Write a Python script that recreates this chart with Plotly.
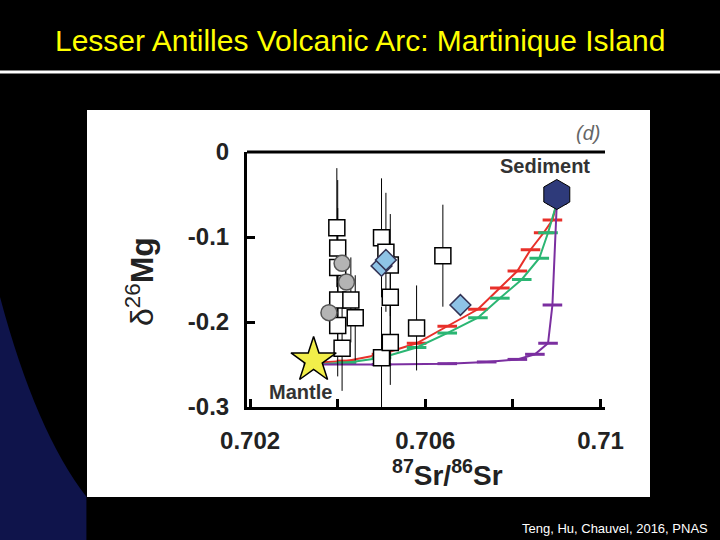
import plotly.graph_objects as go

sq_x = [0.70398,0.7040,0.7040,0.7040,0.7040,0.7041,0.7043,0.7044,0.7050,0.7051,0.7052,0.7052,0.7050,0.7052,0.7058,0.7064]
sq_y = [-0.089,-0.113,-0.136,-0.174,-0.204,-0.231,-0.174,-0.195,-0.101,-0.118,-0.133,-0.171,-0.242,-0.224,-0.207,-0.122]
sq_e = [0.07,0.08,0.07,0.06,0.06,0.05,0.05,0.05,0.07,0.07,0.06,0.06,0.06,0.05,0.05,0.06]
ci_x = [0.7041,0.7042,0.7038]
ci_y = [-0.131,-0.153,-0.189]
di_x = [0.7050,0.7051,0.7068]
di_y = [-0.134,-0.127,-0.180]
red_x = [0.70345,0.7042,0.7050,0.7058,0.7065,0.7072,0.7077,0.7081,0.7084,0.7087,0.7089,0.7090]
red_y = [-0.248,-0.246,-0.238,-0.225,-0.205,-0.185,-0.160,-0.140,-0.115,-0.095,-0.080,-0.060]
grn_x = [0.70345,0.7042,0.7050,0.7058,0.7065,0.7072,0.7077,0.7082,0.7086,0.7088,0.7090]
grn_y = [-0.250,-0.248,-0.242,-0.230,-0.213,-0.195,-0.172,-0.150,-0.125,-0.095,-0.060]
pur_x = [0.70345,0.7050,0.7065,0.7074,0.7081,0.7085,0.7088,0.7089,0.7090]
pur_y = [-0.250,-0.250,-0.249,-0.247,-0.244,-0.238,-0.225,-0.180,-0.060]

fig = go.Figure()
for x, y, c in [(red_x, red_y, "#e8302a"), (grn_x, grn_y, "#2bb673"), (pur_x, pur_y, "#7b2fa0")]:
    fig.add_trace(go.Scatter(x=x, y=y, mode="lines+markers", line=dict(color=c, width=2),
                             marker=dict(symbol="line-ew", size=14, line=dict(color=c, width=3))))
fig.add_trace(go.Scatter(x=sq_x, y=sq_y, mode="markers",
    error_y=dict(type="data", array=sq_e, color="black", thickness=1, width=0),
    marker=dict(symbol="square", size=16, color="white", line=dict(color="black", width=1.5))))
fig.add_trace(go.Scatter(x=ci_x, y=ci_y, mode="markers",
    marker=dict(symbol="circle", size=16, color="#b4b4b4", line=dict(color="#555", width=1.5))))
fig.add_trace(go.Scatter(x=di_x, y=di_y, mode="markers",
    marker=dict(symbol="diamond", size=16, color="#8ec3e6", line=dict(color="#335", width=1.5))))
fig.add_trace(go.Scatter(x=[0.70345], y=[-0.245], mode="markers",
    marker=dict(symbol="star", size=34, color="#f2ee4a", line=dict(color="black", width=1.5))))
fig.add_trace(go.Scatter(x=[0.7090], y=[-0.050], mode="markers",
    marker=dict(symbol="hexagon", size=30, color="#2e3a7a", line=dict(color="black", width=1))))

fig.update_layout(
    width=720, height=540, autosize=False, margin=dict(l=0, r=0, t=0, b=0, pad=0), showlegend=False,
    paper_bgcolor="black", plot_bgcolor="white",
    font=dict(family="Liberation Sans, Arial", color="black"),
    xaxis=dict(domain=[247/720, 605/720], range=[0.70193, 0.7101], tickvals=[0.702, 0.704, 0.706, 0.708, 0.71],
               ticktext=["<b>0.702</b>", "", "<b>0.706</b>", "", "<b>0.71</b>"], showline=True, linecolor="black", linewidth=3,
               ticks="inside", ticklen=8, tickwidth=3, tickcolor="black", showgrid=False, zeroline=False,
               automargin=False, tickfont=dict(size=24, color="#222"), ticklabelstandoff=10),
    yaxis=dict(domain=[1-407/540, 1-152/540], range=[-0.3, 0], tickvals=[0, -0.1, -0.2, -0.3],
               ticktext=["<b>0</b>", "<b>-0.1</b>", "<b>-0.2</b>", "<b>-0.3</b>"], showline=True, linecolor="black", linewidth=3,
               ticks="inside", ticklen=8, tickwidth=3, tickcolor="black", showgrid=False, zeroline=False,
               automargin=False, tickfont=dict(size=24, color="#222"), ticklabelstandoff=10),
    shapes=[
        dict(type="rect", xref="paper", yref="paper", x0=87/720, x1=650/720, y0=1-497/540, y1=1-110/540,
             fillcolor="white", line=dict(width=0), layer="below"),
        dict(type="line", xref="paper", yref="paper", x0=0, x1=1, y0=1-72/540, y1=1-72/540,
             line=dict(color="white", width=3)),
        dict(type="line", xref="paper", yref="paper", x0=247/720, x1=605/720, y0=1-152/540, y1=1-152/540,
             line=dict(color="black", width=3)),
        dict(type="path", xref="paper", yref="paper",
             path="M 0,0.45 Q 0.05,0.2 0.12,0.08 L 0.12,0 L 0,0 Z", fillcolor="rgba(30,40,150,0.5)", line=dict(width=0), layer="below"),
    ],
    annotations=[
        dict(text="Lesser Antilles Volcanic Arc: Martinique Island", x=0.5, y=1-40/540, xref="paper", yref="paper",
             xanchor="center", yanchor="middle", showarrow=False, font=dict(size=30, color="#ffff00")),
        dict(text="δ<sup>26</sup><b>Mg</b>", x=140/720, y=1-282/540, xref="paper", yref="paper", textangle=-90,
             xanchor="center", yanchor="middle", showarrow=False, font=dict(size=32, color="#222")),
        dict(text="<b><sup>87</sup>Sr/<sup>86</sup>Sr</b>", x=447/720, y=1-473/540, xref="paper", yref="paper",
             xanchor="center", yanchor="middle", showarrow=False, font=dict(size=28, color="#222")),
        dict(text="<i>(d)</i>", x=588/720, y=1-133/540, xref="paper", yref="paper", showarrow=False,
             xanchor="center", yanchor="middle", font=dict(size=20, color="#666")),
        dict(text="<b>Sediment</b>", x=545/720, y=1-166/540, xref="paper", yref="paper", showarrow=False,
             xanchor="center", yanchor="middle", font=dict(size=20, color="#333")),
        dict(text="<b>Mantle</b>", x=300/720, y=1-392/540, xref="paper", yref="paper", showarrow=False,
             xanchor="center", yanchor="middle", font=dict(size=20, color="#333")),
        dict(text="Teng, Hu, Chauvel, 2016, PNAS", x=710/720, y=1-528/540, xref="paper", yref="paper",
             xanchor="right", yanchor="middle", showarrow=False, font=dict(size=13, color="white")),
    ],
)
fig.write_html("out.html", config={"displayModeBar": False},
               post_script="document.body.style.margin='0';document.body.style.overflow='hidden';")
